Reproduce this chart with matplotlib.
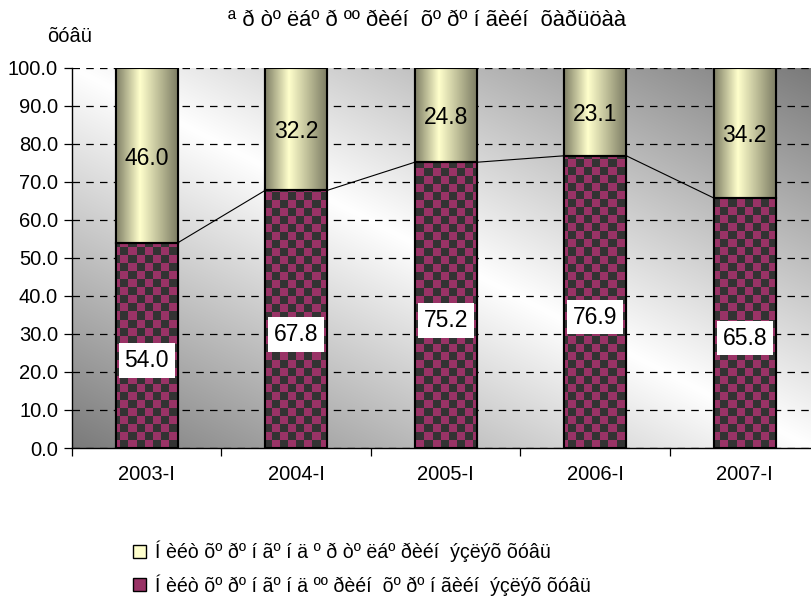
import numpy as np
import matplotlib
matplotlib.use('Agg')
import matplotlib.pyplot as plt
from matplotlib.patches import Patch

plt.rcParams['font.family'] = ['Liberation Sans', 'DejaVu Sans']

periods = ['2003-I', '2004-I', '2005-I', '2006-I', '2007-I']
bottom_vals = [54.0, 67.8, 75.2, 76.9, 65.8]
top_vals = [46.0, 32.2, 24.8, 23.1, 34.2]

title = 'ª ð òº ëáº ð ºº ðèéí  õº ðº í ãèéí  õàðüöàà'
unit = 'õóâü'
legend_top = 'Í èéò õº ðº í ãº í ä º ð òº ëáº ðèéí  ýçëýõ õóâü'
legend_bottom = 'Í èéò õº ðº í ãº í ä ºº ðèéí  õº ðº í ãèéí  ýçëýõ õóâü'

W, H = 812, 597
fig = plt.figure(figsize=(W / 100, H / 100), dpi=100)
ax_l, ax_r, ax_t, ax_b = 72, 812, 68, 448
ax = fig.add_axes([ax_l / W, 1 - ax_b / H, (ax_r - ax_l) / W, (ax_b - ax_t) / H])

x = np.arange(len(periods))
xmin, xmax = -0.5, (ax_r - ax_l) / 149.5 - 0.5
ax.set_xlim(xmin, xmax)
ax.set_ylim(0, 100)

# background: diagonal grey gradient
nx, ny = 400, 200
u = np.linspace(0, 1, nx)[None, :]
v = np.linspace(0, 1, ny)[:, None]
g = 1 - 0.52 * np.abs(u - v)
ax.imshow(np.dstack([g, g, g]), extent=[xmin, xmax, 0, 100], aspect='auto',
          origin='upper', zorder=0, interpolation='bilinear')

# grid
ax.set_yticks(np.arange(0, 101, 10))
ax.yaxis.grid(True, color='black', linestyle=(0, (6, 5)), linewidth=0.9)
ax.set_axisbelow(True)
for gl in ax.get_ygridlines():
    gl.set_zorder(1)

w = 0.415
bars_b = ax.bar(x, bottom_vals, w, color='#993366', edgecolor='black', linewidth=1.5, zorder=3)
bars_t = ax.bar(x, top_vals, w, bottom=bottom_vals, color='#FFFFCC', edgecolor='black',
                linewidth=1.5, zorder=3)

# checkerboard fill for bottom segments
cx = 8 / 149.5
cy = 8 / 3.8
ncx = int((xmax - xmin) / cx) + 2
ncy = int(100 / cy) + 2
cb = (np.add.outer(np.arange(ncy), np.arange(ncx)) % 2).astype(float)
mag = np.array([0x99, 0x33, 0x66]) / 255
drk = np.array([0x33, 0x33, 0x33]) / 255
cimg = np.where(cb[..., None] > 0, mag, drk)
for p in bars_b:
    im = ax.imshow(cimg, extent=[xmin, xmin + ncx * cx, 0, ncy * cy], origin='lower',
                   aspect='auto', interpolation='nearest', zorder=3.5)
    im.set_clip_path(p)

# cylinder shading for top segments
prof_u = np.linspace(0, 1, 100)
fac = np.interp(prof_u, [0, 0.38, 1], [0.5, 1.0, 0.48])
ycol = np.array([1.0, 1.0, 0.8])
grad = (fac[:, None] * ycol[None, :])[None, :, :]
for p in bars_t:
    x0, y0 = p.get_x(), p.get_y()
    im = ax.imshow(grad, extent=[x0, x0 + p.get_width(), y0, y0 + p.get_height()],
                   aspect='auto', interpolation='bilinear', zorder=3.5)
    im.set_clip_path(p)

# redraw edges on top
for p in list(bars_b) + list(bars_t):
    ax.add_patch(plt.Rectangle((p.get_x(), p.get_y()), p.get_width(), p.get_height(),
                               fill=False, edgecolor='black', linewidth=1.5, zorder=4))

# series lines
for i in range(len(x) - 1):
    ax.plot([x[i] + w / 2, x[i + 1] - w / 2], [bottom_vals[i], bottom_vals[i + 1]],
            color='black', linewidth=0.8, zorder=4)

# data labels
for i in range(len(x)):
    ax.text(x[i], bottom_vals[i] / 2 - 4.0, f'{bottom_vals[i]:.1f}', ha='center', va='center',
            fontsize=16.5, zorder=6,
            bbox=dict(boxstyle='square,pad=0.25', facecolor='white', edgecolor='none'))
    ax.text(x[i], bottom_vals[i] + top_vals[i] / 2 - 0.7, f'{top_vals[i]:.1f}', ha='center',
            va='center', fontsize=16.5, zorder=6)

ax.set_yticklabels([f'{t:.1f}' for t in np.arange(0, 101, 10)], fontsize=14.5)
ax.set_xticks(x)
ax.set_xticklabels(periods, fontsize=14.5)
ax.set_xticks(np.arange(-0.5, xmax, 1), minor=True)
ax.tick_params(axis='x', which='major', length=0, pad=12)
ax.tick_params(axis='x', which='minor', length=6, direction='out', width=0.9)
ax.tick_params(axis='y', length=6, direction='out', width=0.9, pad=4)

for s in ['top', 'right']:
    ax.spines[s].set_visible(False)
for s in ['left', 'bottom']:
    ax.spines[s].set_linewidth(1.0)
    ax.spines[s].set_zorder(5)

fig.text(427 / W, 1 - 21 / H, title, ha='center', va='center', fontsize=15.8)
fig.text(47 / W, 1 - 36 / H, unit, ha='left', va='center', fontsize=14.5)

handles = [Patch(facecolor='#FFFFCC', edgecolor='black', label=legend_top),
           Patch(facecolor='#993366', edgecolor='black', label=legend_bottom)]
fig.legend(handles=handles, loc='upper left', bbox_to_anchor=(133 / W, 1 - 541 / H),
           frameon=False, fontsize=14.1, handlelength=0.65, handleheight=0.65,
           handletextpad=0.45, labelspacing=0.6, borderaxespad=0, borderpad=0)

fig.savefig('out.png', dpi=100)
